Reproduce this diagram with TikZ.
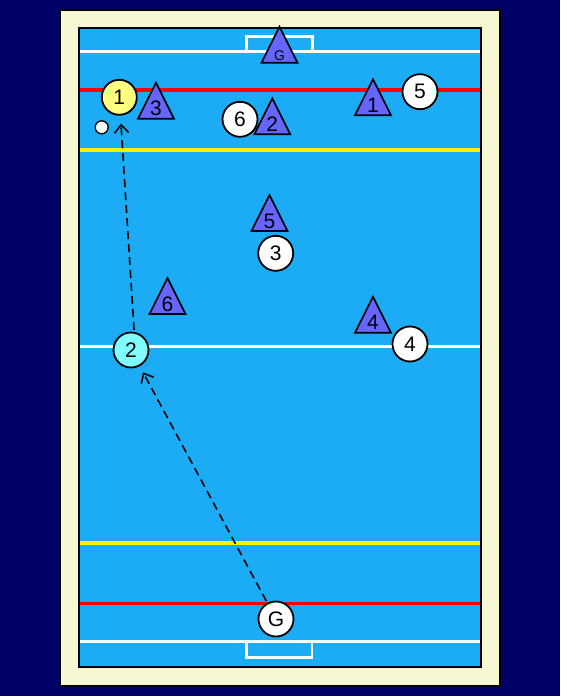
\documentclass[tikz,border=0pt]{standalone}
\usepackage{fontspec}
\setmainfont{Liberation Sans}
\usetikzlibrary{arrows.meta}
\definecolor{navy}{RGB}{0,0,102}
\definecolor{cream}{RGB}{247,247,212}
\definecolor{pool}{RGB}{27,172,245}
\definecolor{tri}{RGB}{102,102,255}
\definecolor{ylw}{RGB}{255,255,128}
\definecolor{cyn}{RGB}{128,255,255}
\tikzset{
  player/.style={circle,draw=black,line width=1.8pt,minimum size=35pt,inner sep=0pt,font=\fontsize{21}{21}\selectfont},
  tristyle/.style={draw=black,fill=tri,line width=1.7pt,line join=miter},
  trilabel/.style={inner sep=0pt,font=\fontsize{21}{21}\selectfont},
  poolline/.style={line width=3.3pt},
  pass/.style={dash pattern=on 8pt off 5pt,line width=1.6pt,-{Straight Barb[length=8pt,width=14pt,line width=1.6pt]}}
}
\newcommand{\deftri}[4]{%
  \draw[tristyle] (#1-18,#2+18) -- (#1,#2-18) -- (#1+18,#2+18) -- cycle;
  \node[trilabel] (#3) at (#1,#2+8) {#4};}
\begin{document}
\begin{tikzpicture}[x=1pt,y=-1pt]
\useasboundingbox (0,0) rectangle (560,696);
\fill[navy] (0,0) rectangle (560,696);
\draw[fill=cream,line width=2.2pt] (60,10) rectangle (500,686);
\fill[pool] (79,28) rectangle (481,667);
% lines
\draw[poolline,white] (79,51.7) -- (481,51.7);
\draw[line width=2.8pt,white] (246.7,51.7) -- (246.7,36.7) -- (312.3,36.7) -- (312.3,51.7);
\draw[poolline,red] (79,90) -- (481,90);
\draw[poolline,yellow] (79,150) -- (481,150);
\draw[poolline,white] (79,346.5) -- (481,346.5);
\draw[poolline,yellow] (79,543) -- (481,543);
\draw[poolline,red] (79,603.5) -- (481,603.5);
\draw[poolline,white] (79,641.5) -- (481,641.5);
\draw[line width=2.8pt,white] (246.5,641.5) -- (246.5,657.3) -- (312,657.3) -- (312,641.5);
\draw[line width=1.8pt] (79,28) rectangle (481,667);
% defenders (triangles)
\draw[tristyle] (261.5,62.7) -- (279.5,26.7) -- (297.5,62.7) -- cycle;
\node[inner sep=0pt,font=\fontsize{14}{14}\selectfont] (tG) at (279.5,56) {G};
\deftri{156}{100.7}{t3}{3}
\deftri{272.3}{116.3}{t2}{2}
\deftri{373}{97.3}{t1}{1}
\deftri{269.5}{213}{t5}{5}
\deftri{167.5}{296}{t6}{6}
\deftri{373}{314.7}{t4}{4}
% attackers (circles)
\node[player,fill=ylw] (c1) at (119.3,97.3) {1};
\node[circle,draw=black,fill=white,line width=1.3pt,minimum size=13pt,inner sep=0pt] (ball) at (101.7,127.3) {};
\node[player,fill=white] (c6) at (240,119.3) {6};
\node[player,fill=white] (c5) at (420,91.7) {5};
\node[player,fill=white] (c3) at (275.7,253.3) {3};
\node[player,fill=cyn] (c2) at (131,350) {2};
\node[player,fill=white] (c4) at (410,344) {4};
\node[player,fill=white] (cG) at (276,619) {G};
% passes
\draw[pass,shorten >=8pt,shorten <=2pt] (c2.80) -- (c1);
\draw[pass,shorten >=7pt,shorten <=2pt] (cG) -- (c2);
\end{tikzpicture}
\end{document}
